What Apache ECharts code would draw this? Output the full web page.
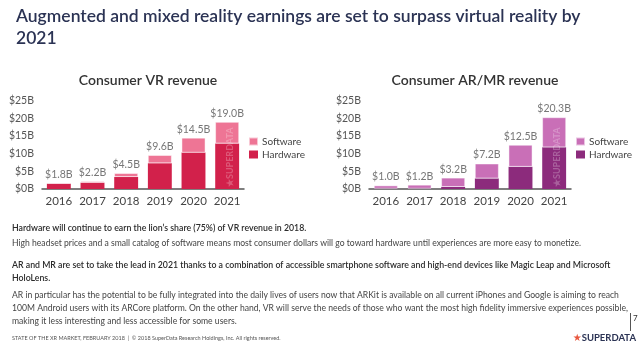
<!DOCTYPE html>
<html>
<head>
<meta charset="utf-8">
<script src="https://cdn.jsdelivr.net/npm/echarts@6/dist/echarts.min.js"></script>
<style>
  html, body { margin: 0; padding: 0; background: #fff; }
  #chart { width: 640px; height: 346px; }
</style>
</head>
<body>
<div id="chart"></div>
<script>
// Years shown on both charts
const years = ['2016', '2017', '2018', '2019', '2020', '2021'];

// Consumer VR revenue, $B
const vrHardware = [1.5, 1.8, 3.4, 7.3, 10.3, 12.9];
const vrSoftware = [0.3, 0.4, 1.1, 2.3, 4.2, 6.1];

// Consumer AR/MR revenue, $B
const arHardware = [0.1, 0.1, 0.6, 3.0, 6.3, 11.8];
const arSoftware = [0.9, 1.1, 2.6, 4.2, 6.2, 8.5];

// Value axis ticks
const yMax = 25;
const yStep = 5;

const FONT = 'Lato, "Open Sans", sans-serif';
const COLORS = {
  vrHw: '#d2214b', vrSw: '#ee7595',
  arHw: '#8c2b7c', arSw: '#c96fb7'
};

const chart = echarts.init(document.getElementById('chart'), null, { renderer: 'canvas' });

function totalLabel(hw, sw) {
  return function (p) {
    return '$' + (hw[p.dataIndex] + sw[p.dataIndex]).toFixed(1) + 'B';
  };
}

function xAxisFor(gridIndex) {
  return {
    type: 'category', gridIndex, data: years,
    axisLine: { lineStyle: { color: '#555', width: 1.5 } },
    axisTick: { show: false },
    axisLabel: { interval: 0, fontFamily: FONT, fontSize: 11.5, color: '#444', margin: 6 }
  };
}
function yAxisFor(gridIndex) {
  return {
    type: 'value', gridIndex, min: 0, max: yMax, interval: yStep,
    axisLine: { show: false }, axisTick: { show: false }, splitLine: { show: false },
    axisLabel: { fontFamily: FONT, fontSize: 10.5, color: '#555', margin: 8,
      formatter: v => '$' + v + 'B' }
  };
}
function legendFor(left, names) {
  return {
    left, top: 136.5, padding: 0, orient: 'vertical', itemWidth: 9, itemHeight: 8, itemGap: 3,
    icon: 'rect', data: names, selectedMode: false,
    formatter: n => n.split(' ')[1],
    textStyle: { fontFamily: FONT, fontSize: 10, color: '#444', lineHeight: 8, padding: [0, 0, 0, -1] }
  };
}
function watermark(x) {
  return {
    type: 'text', x, y: 187, rotation: Math.PI / 2, z: 100,
    style: { text: '\u2605SUPERDATA', fontFamily: FONT, fontSize: 9, fontWeight: 'bold',
      fill: 'rgba(255,255,255,0.25)', align: 'left', verticalAlign: 'middle' }
  };
}
function bodyLine(y, text, bold) {
  return {
    type: 'text', x: 12, y,
    style: { text, fontFamily: FONT, fontSize: bold ? 8.75 : 8.6, fontWeight: bold ? 600 : 'normal',
      fill: bold ? '#2b2b2b' : '#444', verticalAlign: 'middle' }
  };
}

chart.setOption({
  animation: false,
  backgroundColor: '#fff',
  title: [
    { text: 'Augmented and mixed reality earnings are set to surpass virtual reality by\n2021',
      left: 11, top: 0,
      textStyle: { fontFamily: FONT, fontSize: 17.5, fontWeight: 600, color: '#2b3354', lineHeight: 22 } },
    { text: 'Consumer VR revenue', left: 143, top: 68, textAlign: 'center',
      textStyle: { fontFamily: FONT, fontSize: 14, fontWeight: 600, color: '#333' } },
    { text: 'Consumer AR/MR revenue', left: 470, top: 68, textAlign: 'center',
      textStyle: { fontFamily: FONT, fontSize: 14, fontWeight: 600, color: '#333' } }
  ],
  grid: [
    { left: 42, top: 100.7, width: 202, height: 88.3 },
    { left: 369, top: 100.7, width: 202, height: 88.3 }
  ],
  xAxis: [xAxisFor(0), xAxisFor(1)],
  yAxis: [yAxisFor(0), yAxisFor(1)],
  legend: [
    legendFor(248, ['VR Software', 'VR Hardware']),
    legendFor(575, ['AR Software', 'AR Hardware'])
  ],
  series: [
    { name: 'VR Hardware', type: 'bar', stack: 'vr', xAxisIndex: 0, yAxisIndex: 0,
      barWidth: '71%', data: vrHardware, itemStyle: { color: COLORS.vrHw } },
    { name: 'VR Software', type: 'bar', stack: 'vr', xAxisIndex: 0, yAxisIndex: 0,
      barWidth: '71%', data: vrSoftware,
      itemStyle: { color: COLORS.vrSw, borderColor: 'rgba(255,255,255,0.6)', borderWidth: 0.8 },
      label: { show: true, position: 'top', distance: 3, fontFamily: FONT, fontSize: 10.5,
        color: '#777', formatter: totalLabel(vrHardware, vrSoftware) } },
    { name: 'AR Hardware', type: 'bar', stack: 'ar', xAxisIndex: 1, yAxisIndex: 1,
      barWidth: '71%', data: arHardware, itemStyle: { color: COLORS.arHw } },
    { name: 'AR Software', type: 'bar', stack: 'ar', xAxisIndex: 1, yAxisIndex: 1,
      barWidth: '71%', data: arSoftware,
      itemStyle: { color: COLORS.arSw, borderColor: 'rgba(255,255,255,0.6)', borderWidth: 0.8 },
      label: { show: true, position: 'top', distance: 3, fontFamily: FONT, fontSize: 10.5,
        color: '#777', formatter: totalLabel(arHardware, arSoftware) } }
  ],
  graphic: [
    watermark(230), watermark(557),
    bodyLine(228, 'Hardware will continue to earn the lion\u2019s share (75%) of VR revenue in 2018.', true),
    bodyLine(243, 'High headset prices and a small catalog of software means most consumer dollars will go toward hardware until experiences are more easy to monetize.', false),
    bodyLine(265, 'AR and MR are set to take the lead in 2021 thanks to a combination of accessible smartphone software and high-end devices like Magic Leap and Microsoft', true),
    bodyLine(278, 'HoloLens.', true),
    bodyLine(295, 'AR in particular has the potential to be fully integrated into the daily lives of users now that ARKit is available on all current iPhones and Google is aiming to reach', false),
    bodyLine(308, '100M Android users with its ARCore platform. On the other hand, VR will serve the needs of those who want the most high fidelity immersive experiences possible,', false),
    bodyLine(321, 'making it less interesting and less accessible for some users.', false),
    { type: 'text', x: 12, y: 338,
      style: { text: 'STATE OF THE XR MARKET, FEBRUARY 2018  |  \u00a9 2018 SuperData Research Holdings, Inc. All rights reserved.',
        fontFamily: FONT, fontSize: 5.5, fill: '#555', verticalAlign: 'middle' } },
    { type: 'line', shape: { x1: 630.5, y1: 313, x2: 630.5, y2: 331 },
      style: { stroke: '#555', lineWidth: 1 } },
    { type: 'text', x: 633, y: 318,
      style: { text: '7', fontFamily: FONT, fontSize: 8, fill: '#333', verticalAlign: 'middle' } },
    { type: 'text', x: 636, y: 338,
      style: { text: '{s|\u2605}{b|SUPERDATA}', align: 'right', verticalAlign: 'middle',
        rich: {
          s: { fontSize: 10, fill: '#e8573f', fontFamily: 'DejaVu Sans' },
          b: { fontSize: 9.5, fontWeight: 'bold', fill: '#2b3354', fontFamily: FONT }
        } } }
  ]
});
</script>
</body>
</html>
